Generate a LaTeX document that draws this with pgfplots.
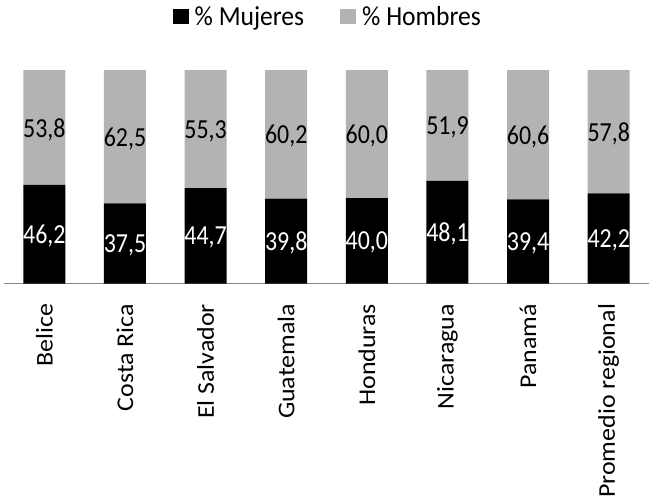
\documentclass[border=0pt]{standalone}
\usepackage{pgfplots}
\usepackage{pgfplotstable}
\pgfplotsset{compat=1.18}
\usepackage{fontspec}
\setmainfont{Carlito}
\newfontfamily\valfont[FakeStretch=0.87]{Carlito}
\newfontfamily\legfont[FakeStretch=0.93]{Carlito}
\newfontfamily\catfont[FakeStretch=1.08]{Carlito}
\definecolor{hgray}{RGB}{179,179,179}
\definecolor{axgray}{RGB}{134,134,134}
\pgfplotstableread{
x m h
0 46.2 53.8
1 37.5 62.5
2 44.7 55.3
3 39.8 60.2
4 40.0 60.0
5 48.1 51.9
6 39.4 60.6
7 42.2 57.8
}\data
\begin{document}
\begin{tikzpicture}
\path[use as bounding box] (-4pt,-220.5pt) rectangle (645pt,283.5pt);
\begin{axis}[
  scale only axis, width=645pt, height=213.5pt,
  ybar stacked, bar width=0.52,
  xmin=-0.5, xmax=7.5, ymin=0, ymax=100,
  enlargelimits=false,
  axis y line=none, axis x line*=bottom,
  x axis line style={axgray, line width=1pt},
  xtick={0,...,7},
  xticklabels={Belice,Costa Rica,El Salvador,Guatemala,Honduras,Nicaragua,Panamá,Promedio regional},
  major tick length=0pt,
  xticklabel style={anchor=east, rotate=90, xshift=-17pt, font=\catfont\fontsize{24}{24}\selectfont},
  point meta=explicit,
  nodes near coords={\pgfmathprintnumber[fixed, fixed zerofill, precision=1, use comma, assume math mode=true]{\pgfplotspointmeta}},
  every node near coord/.append style={anchor=center, font=\valfont\fontsize{27.5}{27.5}\selectfont},
  legend columns=2,
  legend style={draw=none, at={(rel axis cs:0.502,1.2506)}, anchor=center, font=\legfont\fontsize{27.5}{27.5}\selectfont,
    /tikz/every even column/.append style={column sep=34pt},
    /tikz/every odd column/.append style={column sep=4pt}},
  legend cell align=left,
  legend image code/.code={\fill[#1] (0pt,-7.75pt) rectangle (16pt,7.75pt);},
]
\addplot[fill=black, draw=none, every node near coord/.append style={text=white, yshift=-2pt}] table[x=x, y=m, meta=m] {\data};
\addplot[fill=hgray, draw=none, every node near coord/.append style={text=black, yshift=-2pt}] table[x=x, y=h, meta=h] {\data};
\legend{\% Mujeres, \% Hombres}
\end{axis}
\end{tikzpicture}
\end{document}
